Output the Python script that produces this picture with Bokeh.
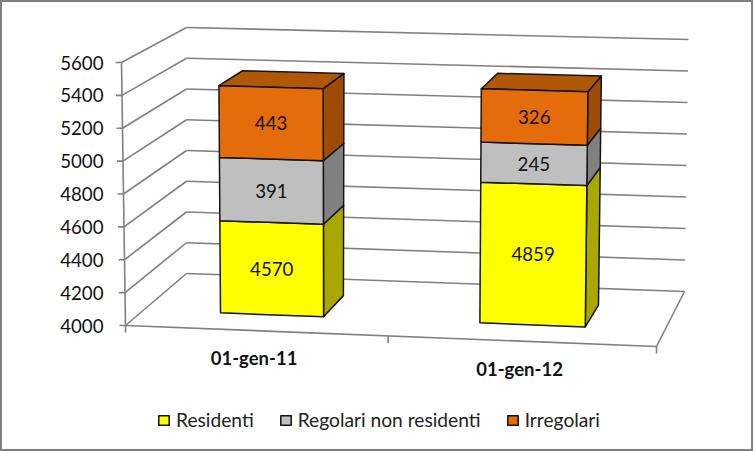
from bokeh.plotting import figure
from bokeh.embed import file_html
from bokeh.resources import INLINE
from bokeh.core.properties import value
from bokeh.models import (Range1d, LinearAxis, FixedTicker,
                          Legend, LegendItem, ColumnDataSource)

# ---- data ----
categories = ["01-gen-11", "01-gen-12"]
residenti = [4570, 4859]
regolari = [391, 245]
irregolari = [443, 326]
series_names = ["Residenti", "Regolari non residenti", "Irregolari"]
y_ticks = [4000, 4200, 4400, 4600, 4800, 5000, 5200, 5400, 5600]

W, H = 753, 451
BORDER = 2
FONT = "Lato"
LEFT = 109
GRID = "#808080"
EDGE = "#141414"
FRONT = ["#FFFF00", "#BFBFBF", "#E46C0A"]
SIDE = ["#A8A800", "#808080", "#9E4B07"]
TOP_FACE = "#B05708"

V0, V1 = y_ticks[0], y_ticks[-1]
N = len(categories)

# value axis scale: front-left edge of the box runs 325 -> 62 on screen
px_per_v = (325 - 62) / (V1 - V0)
px_per_x = (656 - 125) / N          # floor front edge, per category


def data_x(px):
    return (px - 125) / px_per_x


def data_y(py):
    return V0 + (325 - py) / px_per_v


# box corners on screen: (bottom/top, front/back, left/right)
C = {
    ("b", 0, 0): (125, 325), ("b", 0, 1): (656, 346),
    ("b", 1, 0): (186, 273), ("b", 1, 1): (684, 291),
    ("t", 0, 0): (121, 62), ("t", 0, 1): (660, 76.6),
    ("t", 1, 0): (186, 27), ("t", 1, 1): (688, 39),
}


def project(cat, v, w):
    """cat: category position (0..N), v: value, w: depth (0 front .. 1 back)."""
    c = cat / N
    u = c - 0.022 * c * (1 - c)      # slight perspective along the category axis
    t = (v - V0) / (V1 - V0)
    out = []
    for i in range(2):
        def floor(level):
            f = C[(level, 0, 0)][i] * (1 - u) + C[(level, 0, 1)][i] * u
            b = C[(level, 1, 0)][i] * (1 - u) + C[(level, 1, 1)][i] * u
            return f * (1 - w) + b * w
        out.append(floor("b") * (1 - t) + floor("t") * t)
    return data_x(out[0]), data_y(out[1])


# the canvas keeps the full outer size and starts inside the CSS border
p = figure(width=W - 2 * BORDER, height=H - 2 * BORDER, output_backend="svg", toolbar_location=None,
           x_range=Range1d(data_x(LEFT), data_x(W + BORDER)),
           y_range=Range1d(data_y(H + BORDER), data_y(BORDER)),
           min_border_left=LEFT - BORDER, min_border_right=0, min_border_top=0, min_border_bottom=0,
           x_axis_type=None, y_axis_type=None, background_fill_color="white",
           border_fill_color="white", outline_line_color=None)
p.styles = {"position": "absolute", "left": "0px", "top": "0px", "box-sizing": "content-box",
            "border": f"{BORDER}px solid #7F7F7F"}
p.grid.visible = False

axis = LinearAxis(ticker=FixedTicker(ticks=y_ticks), axis_line_color=None,
                  major_tick_line_color=None, minor_tick_line_color=None,
                  major_label_text_font=FONT, major_label_text_font_size="18.7px",
                  major_label_text_color="#111111", major_label_standoff=0)
p.add_layout(axis, "left")

# ---- walls and floor ----
xs, ys = [], []


def seg(a, b):
    xs.append([a[0], b[0]])
    ys.append([a[1], b[1]])


tick_px = 6 / px_per_x
for t in y_ticks:
    seg(project(0, t, 0), project(0, t, 1))
    seg(project(0, t, 1), project(N, t, 1))
    fx, fy = project(0, t, 0)
    seg((fx - tick_px, fy), (fx, fy))
seg(project(0, V0, 0), project(0, V1, 0))
seg(project(0, V0, 0), project(N, V0, 0))
seg(project(N, V0, 0), project(N, V0, 1))
for c in range(N + 1):
    fx, fy = project(c, V0, 0)
    seg((fx, fy), (fx, fy - 7 / px_per_v))
p.multi_line(xs, ys, line_color=GRID, line_width=1.6)

# ---- bars ----
W_FRONT, W_BACK = 0.3, 0.7
BAR = 0.4
stack = [residenti, regolari, irregolari]


def quad(pts):
    return [q[0] for q in pts], [q[1] for q in pts]


front_r = []
labels = {"x": [], "y": [], "t": []}
bases = [0] * N
for s, vals in enumerate(stack):
    fx, fy, sx, sy, tx, ty = [], [], [], [], [], []
    for i, val in enumerate(vals):
        lo = max(bases[i], V0)   # the axis starts above zero: the bar is cut at its floor
        hi = bases[i] + val
        l, r = i + 0.5 - BAR / 2, i + 0.5 + BAR / 2
        a, b = quad([project(l, lo, W_FRONT), project(r, lo, W_FRONT),
                     project(r, hi, W_FRONT), project(l, hi, W_FRONT)])
        fx.append(a); fy.append(b)
        a, b = quad([project(r, lo, W_FRONT), project(r, lo, W_BACK),
                     project(r, hi, W_BACK), project(r, hi, W_FRONT)])
        sx.append(a); sy.append(b)
        if s == len(stack) - 1:
            a, b = quad([project(l, hi, W_FRONT), project(r, hi, W_FRONT),
                         project(r, hi, W_BACK), project(l, hi, W_BACK)])
            tx.append(a); ty.append(b)
        cx, cy = project(i + 0.5, (lo + hi) / 2, W_FRONT)
        labels["x"].append(cx); labels["y"].append(cy); labels["t"].append(str(val))
        bases[i] = hi
    p.patches(sx, sy, fill_color=SIDE[s], line_color=EDGE, line_width=1.5, line_join="round")
    if tx:
        p.patches(tx, ty, fill_color=TOP_FACE, line_color=EDGE, line_width=1.5, line_join="round")
    front_r.append(p.patches(fx, fy, fill_color=FRONT[s], line_color=EDGE, line_width=1.5,
                             line_join="round"))

p.text("x", "y", text="t", source=ColumnDataSource(labels), text_font=value(FONT),
       text_font_size="18.7px", text_align="center", text_baseline="middle", text_color="#111111")

# ---- category labels ----
cl = {"x": [], "y": [], "t": categories}
for i in range(N):
    fx, fy = project(i + 0.5, V0, 0)
    cl["x"].append(fx - 2 / px_per_x)
    cl["y"].append(fy - 27.5 / px_per_v)
p.text("x", "y", text="t", source=ColumnDataSource(cl), text_font=value(FONT),
       text_font_style="bold", text_font_size="18.5px", text_align="center",
       text_baseline="middle", text_color="#111111")

# ---- legend ----
legend = Legend(items=[LegendItem(label=value(n), renderers=[r]) for n, r in zip(series_names, front_r)],
                orientation="horizontal", location=(157 - LEFT, H - 429),
                glyph_width=13, glyph_height=12, label_standoff=6, spacing=25,
                padding=0, margin=0, border_line_color=None, background_fill_alpha=0,
                label_text_font=FONT, label_text_font_size="19.2px", label_text_color="#222222",
                label_height=12)
p.add_layout(legend, "center")

open("out.html", "w").write(file_html(p, INLINE))
